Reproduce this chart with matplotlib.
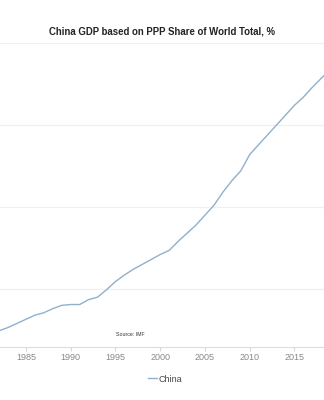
import matplotlib
matplotlib.use('Agg')
import matplotlib.pyplot as plt

# China GDP (PPP) share of world total, %
years = list(range(1980, 2020))
china = [2.2, 2.3, 2.45, 2.65, 2.9, 3.15, 3.4, 3.55, 3.8, 4.0,
         4.05, 4.05, 4.35, 4.5, 4.95, 5.45, 5.85, 6.2, 6.5, 6.8,
         7.1, 7.35, 7.9, 8.4, 8.9, 9.5, 10.1, 10.9, 11.6, 12.2,
         13.2, 13.8, 14.4, 15.0, 15.6, 16.2, 16.7, 17.3, 17.85, 18.4]
xticks = [1985, 1990, 1995, 2000, 2005, 2010, 2015]
yticks = [5, 10, 15, 20]

plt.rcParams['font.family'] = ['Liberation Sans', 'DejaVu Sans']

fig = plt.figure(figsize=(3.24, 4.0), dpi=100)
ax = fig.add_axes([0, 1 - 347 / 400, 1, (347 - 43) / 400])

ax.plot(years, china, color='#90b0cc', linewidth=1.0, label='China')

ax.set_xlim(1982.1, 2018.3)
ax.set_ylim(1.46, 20)
ax.set_xticks(xticks)
ax.set_yticks(yticks)
ax.set_yticklabels([])
ax.tick_params(axis='y', length=0)
ax.tick_params(axis='x', colors='#d8d8d8', length=3, width=0.8,
               labelcolor='#888888', labelsize=6.5, pad=1.5)
ax.grid(axis='y', color='#f0f0f0', linewidth=0.9)
ax.set_axisbelow(True)
for s in ['left', 'right', 'top']:
    ax.spines[s].set_visible(False)
ax.spines['bottom'].set_color('#dcdcdc')
ax.spines['bottom'].set_linewidth(0.8)

fig.text(0.5, 1 - 32 / 400, 'China GDP based on PPP Share of World Total, %',
         ha='center', va='center', fontsize=6.9, fontweight='bold', color='#222222')
fig.text(130 / 324, 1 - 335 / 400, 'Source: IMF', ha='center', va='center',
         fontsize=3.8, color='#333333')

leg = fig.legend(loc='center', bbox_to_anchor=(0.51, 1 - 379 / 400), frameon=False,
                 fontsize=6.5, handlelength=1.0, handletextpad=0.15)
for t in leg.get_texts():
    t.set_color('#444444')

fig.savefig('out.png', dpi=100)
